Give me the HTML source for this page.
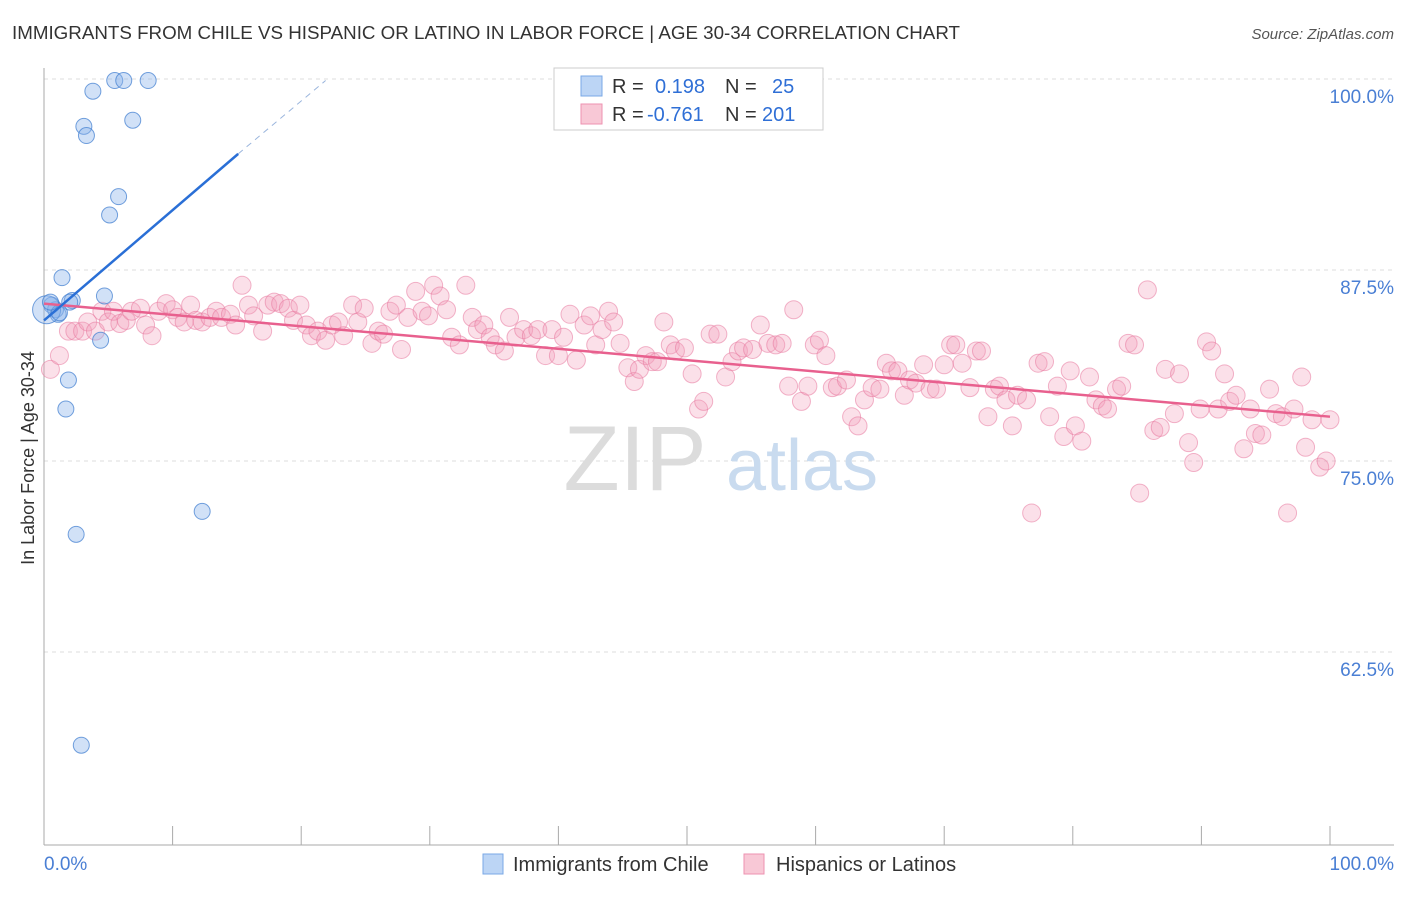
<!DOCTYPE html>
<html><head><meta charset="utf-8"><style>
body{margin:0;background:#fff;font-family:"Liberation Sans",sans-serif;}
svg text{font-family:"Liberation Sans",sans-serif;}
</style></head><body>
<svg id="chart" width="1406" height="892" xmlns="http://www.w3.org/2000/svg">
<text x="12" y="39" font-size="18" fill="#333" textLength="948" lengthAdjust="spacingAndGlyphs">IMMIGRANTS FROM CHILE VS HISPANIC OR LATINO IN LABOR FORCE | AGE 30-34 CORRELATION CHART</text>
<text x="1394" y="39" font-size="15" fill="#555" font-style="italic" text-anchor="end">Source: ZipAtlas.com</text>
<g id="grid"></g>
<g>
<text x="635" y="490" font-size="92" fill="#dcdcdc" font-family="Liberation Serif" text-anchor="middle">ZIP</text>
<text x="802" y="490" font-size="72" fill="#c9dbef" text-anchor="middle">atlas</text>
</g>
<line x1="44" y1="68" x2="44" y2="845" stroke="#aaa"/>
<line x1="44" y1="845" x2="1394" y2="845" stroke="#aaa"/>
<g id="xticks"></g>
<g id="pink"></g>
<g id="blue"></g>
<g id="trends"></g>
<text x="34" y="458" font-size="18" fill="#333" text-anchor="middle" transform="rotate(-90 34 458)">In Labor Force | Age 30-34</text>
<text x="44" y="870" font-size="19" fill="#4a7fd4">0.0%</text>
<text x="1394" y="870" font-size="19" fill="#4a7fd4" text-anchor="end">100.0%</text>
<g>
<rect x="554" y="68" width="269" height="62" fill="#fff" stroke="#ccc"/>
<rect x="581" y="76" width="21" height="20" fill="#bcd5f5" stroke="#7aa8e6"/>
<rect x="581" y="104" width="21" height="20" fill="#f8c8d6" stroke="#ee92b0"/>
<text x="612" y="93" font-size="20" fill="#333">R = <tspan fill="#2f6fd6" x="655">0.198</tspan><tspan x="725" fill="#333">N = </tspan><tspan fill="#2f6fd6" x="772">25</tspan></text>
<text x="612" y="121" font-size="20" fill="#333">R = <tspan fill="#2f6fd6" x="647">-0.761</tspan><tspan x="725" fill="#333">N = </tspan><tspan fill="#2f6fd6" x="762">201</tspan></text>
</g>
<g>
<rect x="483" y="854" width="20" height="20" fill="#bcd5f5" stroke="#7aa8e6"/>
<text x="513" y="871" font-size="20" fill="#333">Immigrants from Chile</text>
<rect x="744" y="854" width="20" height="20" fill="#f8c8d6" stroke="#ee92b0"/>
<text x="776" y="871" font-size="20" fill="#333">Hispanics or Latinos</text>
</g>
</svg>
<script>
const yTicks=[100,87.5,75,62.5];
const yTickLabels=["100.0%","87.5%","75.0%","62.5%"];
const xTicks=[0,10,20,30,40,50,60,70,80,90,100];
const blueX=[5.5,6.2,8.1,3.8,3.1,3.3,6.9,5.8,5.1,1.4,4.7,2.2,2.0,0.6,0.9,1.1,0.2,4.4,1.9,1.7,2.5,12.3,2.9,1.2,0.5];
const blueY=[99.9,99.9,99.9,99.2,96.9,96.3,97.3,92.3,91.1,87.0,85.8,85.5,85.4,85.2,84.9,84.6,84.9,82.9,80.3,78.4,70.2,71.7,56.4,84.7,85.4];
const pinkX=[0.5,1.2,1.9,2.4,3.0,3.4,4.0,4.5,5.0,5.4,5.9,6.4,6.8,7.5,7.9,8.4,8.9,9.5,10.0,10.4,10.9,11.4,11.8,12.3,12.9,13.4,13.8,14.5,14.9,15.4,15.9,16.3,17.0,17.4,17.9,18.4,19.0,19.4,19.9,20.4,20.8,21.3,21.9,22.4,22.9,23.3,24.0,24.4,24.9,25.5,26.0,26.4,26.9,27.4,27.8,28.3,28.9,29.4,29.9,30.3,30.8,31.3,31.7,32.3,32.8,33.3,33.7,34.2,34.7,35.1,35.8,36.2,36.7,37.3,37.9,38.4,39.0,39.5,40.0,40.4,40.9,41.4,42.0,42.5,42.9,43.4,43.9,44.3,44.8,45.4,45.9,46.3,46.8,47.3,47.7,48.2,48.7,49.1,49.8,50.4,50.9,51.3,51.8,52.4,53.0,53.5,54.0,54.4,55.1,55.7,56.3,56.9,57.4,57.9,58.3,58.9,59.4,59.9,60.3,60.8,61.3,61.7,62.4,62.8,63.3,63.8,64.4,65.0,65.5,65.9,66.4,66.9,67.3,67.8,68.4,68.9,69.4,70.0,70.5,70.9,71.4,72.0,72.5,72.9,73.4,73.9,74.3,74.8,75.3,75.7,76.4,76.8,77.3,77.8,78.2,78.8,79.3,79.8,80.2,80.7,81.3,81.8,82.3,82.7,83.4,83.8,84.3,84.8,85.2,85.8,86.3,86.8,87.2,87.9,88.3,89.0,89.4,89.9,90.4,90.8,91.3,91.8,92.2,92.7,93.3,93.8,94.2,94.7,95.3,95.8,96.3,96.7,97.2,97.8,98.1,98.6,99.2,99.7,100];
const pinkY=[81.0,81.9,83.5,83.5,83.5,84.1,83.5,84.8,84.1,84.8,84.0,84.2,84.8,85.0,83.9,83.2,84.8,85.3,84.9,84.4,84.1,85.2,84.2,84.1,84.4,84.8,84.4,84.6,83.9,86.5,85.2,84.5,83.5,85.2,85.4,85.3,85.0,84.2,85.2,83.9,83.2,83.5,82.9,83.9,84.1,83.2,85.2,84.1,85.0,82.7,83.5,83.3,84.8,85.2,82.3,84.4,86.1,84.8,84.5,86.5,85.8,84.9,83.1,82.6,86.5,84.4,83.6,83.9,83.1,82.6,82.2,84.4,83.1,83.6,83.2,83.6,81.9,83.6,81.9,83.1,84.6,81.6,83.9,84.5,82.6,83.6,84.8,84.1,82.7,81.1,80.2,81.0,81.9,81.5,81.5,84.1,82.6,82.2,82.4,80.7,78.4,78.9,83.3,83.3,80.5,81.5,82.2,82.4,82.3,83.9,82.7,82.6,82.7,79.9,84.9,78.9,79.9,82.6,82.9,81.9,79.8,79.9,80.3,77.9,77.3,79.0,79.8,79.7,81.4,80.9,80.9,79.3,80.3,80.1,81.3,79.7,79.7,81.3,82.6,82.6,81.4,79.8,82.2,82.2,77.9,79.7,79.9,79.0,77.3,79.3,79.0,71.6,81.4,81.5,77.9,79.9,76.6,80.9,77.3,76.3,80.5,79.0,78.6,78.4,79.7,79.9,82.7,82.6,72.9,86.2,77.0,77.2,81.0,78.1,80.7,76.2,74.9,78.4,82.8,82.2,78.4,80.7,78.9,79.3,75.8,78.4,76.8,76.7,79.7,78.1,77.9,71.6,78.4,80.5,75.9,77.7,74.6,75.0,77.7];
const blueTrend=[[0,84.2],[15.1,95.1]];
const blueDash=[[15.1,95.1],[21.9,99.9]];
const pinkTrend=[[0,85.3],[100,77.9]];

const X0=44,X1=1330,Y0=79,YSTEP=191/12.5;
const sx=v=>X0+(X1-X0)*v/100;
const sy=v=>Y0+(100-v)*YSTEP;
const NS="http://www.w3.org/2000/svg";
function mk(tag,attrs,parent){const e=document.createElementNS(NS,tag);for(const k in attrs)e.setAttribute(k,attrs[k]);parent.appendChild(e);return e;}
const grid=document.getElementById('grid');
yTicks.forEach((t,i)=>{
  const l=mk('line',{x1:44,x2:1394,y1:sy(t),y2:sy(t),stroke:'#ddd','stroke-dasharray':'4,4'},grid);
  
  
  const tx=mk('text',{x:1394,y:sy(t)+24,'font-size':19,fill:'#4a7fd4','text-anchor':'end'},grid);
  tx.textContent=yTickLabels[i];
  
  
});
const xt=document.getElementById('xticks');
xTicks.forEach(t=>{
  const l=mk('line',{x1:sx(t),x2:sx(t),y1:826,y2:845,stroke:'#aaa'},xt);
  
  
});
const pink=document.getElementById('pink');
pinkX.forEach((x,i)=>{
  const c=mk('circle',{cx:sx(x),cy:sy(pinkY[i]),r:9,fill:'rgba(244,160,188,0.32)',stroke:'rgba(232,120,158,0.55)','stroke-width':1},pink);
  
  
});
const blue=document.getElementById('blue');
blueX.forEach((x,i)=>{
  const c=mk('circle',{cx:sx(x),cy:sy(blueY[i]),r:i===16?14:8,fill:'rgba(140,180,235,0.4)',stroke:'rgba(70,130,210,0.75)','stroke-width':1},blue);
  
  
});
const tr=document.getElementById('trends');
let l1=mk('line',{x1:sx(pinkTrend[0][0]),y1:sy(pinkTrend[0][1]),x2:sx(pinkTrend[1][0]),y2:sy(pinkTrend[1][1]),stroke:'#e8608e','stroke-width':2.5},tr);


let l2=mk('line',{x1:sx(blueTrend[0][0]),y1:sy(blueTrend[0][1]),x2:sx(blueTrend[1][0]),y2:sy(blueTrend[1][1]),stroke:'#2a6fd6','stroke-width':2.5},tr);


let l3=mk('line',{x1:sx(blueDash[0][0]),y1:sy(blueDash[0][1]),x2:sx(blueDash[1][0]),y2:sy(blueDash[1][1]),stroke:'#9ab5dd','stroke-width':1,'stroke-dasharray':'6,5'},tr);


</script>
</body></html>
